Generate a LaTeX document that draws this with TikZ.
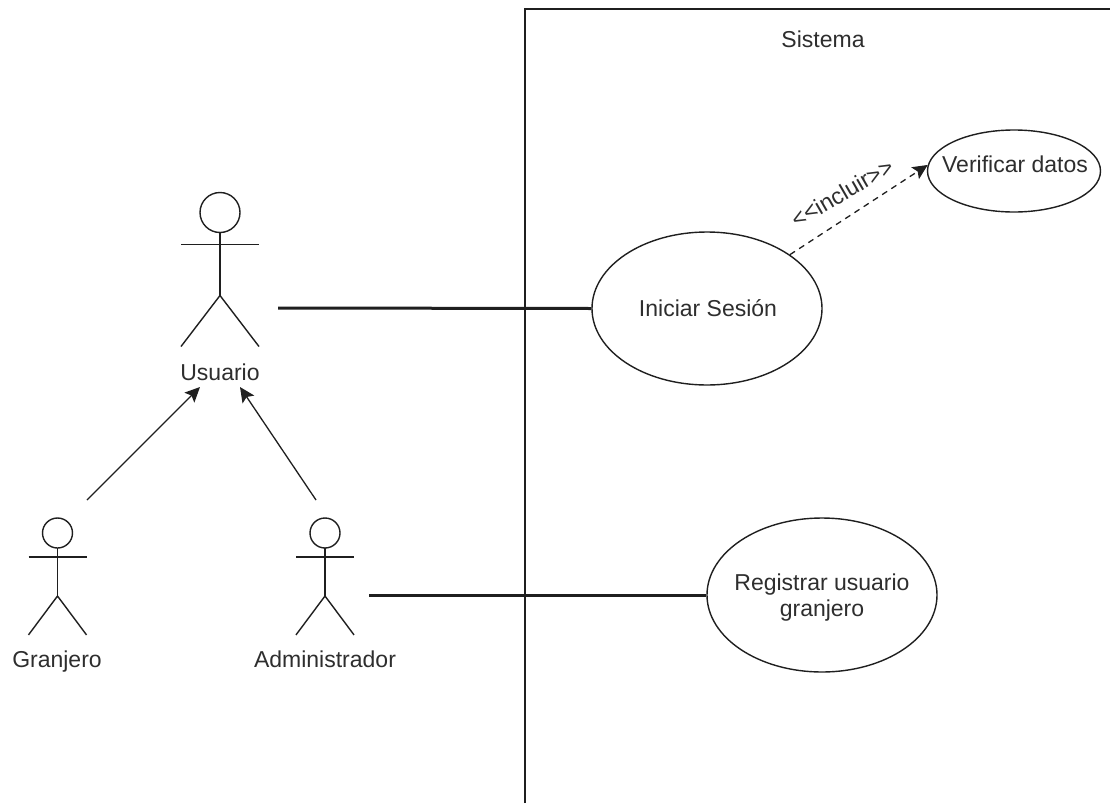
\documentclass[tikz,border=0pt]{standalone}
\usepackage{fontspec}
\setmainfont{Liberation Sans}
\usetikzlibrary{arrows.meta,shapes.geometric}
\definecolor{ink}{gray}{0.12}
\definecolor{textink}{gray}{0.18}
\tikzset{
  lbl/.style={font=\fontsize{23}{23}\selectfont,text=textink,align=center,inner sep=0pt,anchor=base},
  usecase/.style={ellipse,draw=ink,line width=1.4pt,fill=white,inner sep=0pt},
  assoc/.style={line width=3pt,draw=ink},
  gen/.style={line width=1.3pt,draw=ink,-{Stealth[length=15pt,width=14pt,inset=3pt]}},
  incl/.style={line width=1.3pt,draw=ink,dash pattern=on 6pt off 5pt,-{Stealth[length=15pt,width=14pt,inset=3pt]}},
  limb/.style={line width=1.4pt,draw=ink}
}
\newcommand{\stickman}[7]{%
  \coordinate (#1head) at (#2,#3);
  \draw[limb] (#1head) circle (#4);
  \coordinate (#1neck) at (#2,#3+#4);
  \coordinate (#1hip) at (#2,#3+#4+#7);
  \draw[limb] (#1neck) -- (#1hip);
  \draw[limb] (#2-#5,#3+#4+#6) -- (#2+#5,#3+#4+#6);
  \draw[limb] (#2-#5,#3+#4+#7+#7*0.81) -- (#1hip) -- (#2+#5,#3+#4+#7+#7*0.81);
}
\begin{document}
\begin{tikzpicture}[x=1pt,y=-1pt]
\useasboundingbox (0,0) rectangle (1110,803);
\fill[white] (0,0) rectangle (1110,803);
% system boundary
\coordinate (sa) at (525,803);
\coordinate (sb) at (525,9);
\coordinate (sc) at (1110,9);
\draw[line width=1.6pt,draw=ink] (sa) -- (sb) -- (sc);
\node[lbl] (sis) at (823,47) {Sistema};
% actors
\stickman{u}{220}{212.5}{20}{39}{12}{63}
\stickman{g}{57.5}{533}{15}{29}{9}{48}
\stickman{a}{325}{533}{15}{29}{9}{48}
\node[lbl] (ulab) at (220,380) {Usuario};
\node[lbl] (glab) at (57,667) {Granjero};
\node[lbl] (alab) at (325,667) {Administrador};
% use cases
\node[usecase,minimum width=230pt,minimum height=153pt] (ini) at (707,308.5) {};
\node[usecase,minimum width=173pt,minimum height=82pt] (ver) at (1014,171) {};
\node[usecase,minimum width=230pt,minimum height=154pt] (reg) at (822,595) {};
\node[lbl] (initxt) at (708,316) {Iniciar Sesión};
\node[lbl] (vertxt) at (1015,172) {Verificar datos};
\node[lbl] (regtxt) at (822,590) {Registrar usuario};
\node[lbl] (regtxtb) at (822,616) {granjero};
% connector ends
\coordinate (uout) at (278,308);
\coordinate (aout) at (369,595);
\coordinate (gup) at (87,500);
\coordinate (aup) at (316,500);
\coordinate (uinl) at (200,387);
\coordinate (uinr) at (240,387);
% connectors
\draw[assoc] (uout) -- (ini.west);
\draw[assoc] (aout) -- (reg.west);
\draw[gen] (gup) -- (uinl);
\draw[gen] (aup) -- (uinr);
\draw[incl] (ini.33) -- (ver.176);
\node[lbl,anchor=center,rotate=30] (inc) at (842,193) {{<}{<}incluir{>}{>}};
\end{tikzpicture}
\end{document}
